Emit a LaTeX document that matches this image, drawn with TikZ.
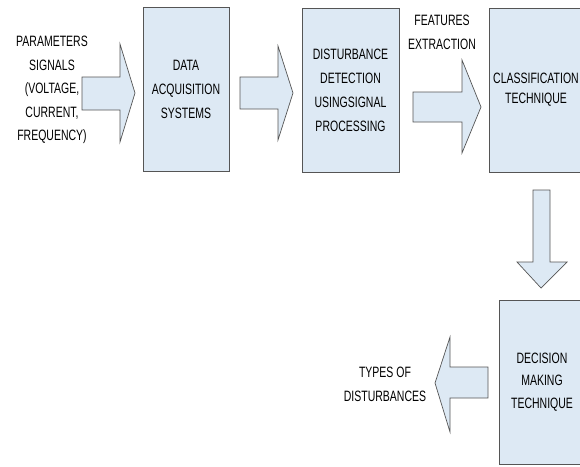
\documentclass[tikz,border=0pt]{standalone}
\usepackage{fontspec}
\setmainfont{Liberation Sans}[FakeStretch=0.7]
\usetikzlibrary{positioning}
\definecolor{boxfill}{RGB}{221,233,244}
\definecolor{boxline}{RGB}{85,85,85}

\begin{document}
\begin{tikzpicture}[x=1pt,y=-1pt,
        block/.style={draw=boxline,fill=boxfill,line width=0.8pt,align=center,
                      minimum height=164pt,inner sep=0pt,
                      font=\fontsize{15pt}{24pt}\selectfont},
        label/.style={align=center,inner sep=0pt,font=\fontsize{15pt}{24pt}\selectfont},
        bigarrow/.style={draw=boxline,fill=boxfill,line width=0.7pt,line join=miter}]

        \useasboundingbox (0,0) rectangle (580,466);
        \clip (0,0) rectangle (580,466);

        % blocks
        \node[block,minimum width=86pt]  (DAQ)  at (186,89.5)  {DATA\\ACQUISITION\\SYSTEMS};
        \node[block,minimum width=97pt]  (DET)  at (350.5,90.5) {DISTURBANCE\\DETECTION\\USINGSIGNAL\\PROCESSING};
        \node[block,minimum width=94pt,font=\fontsize{15pt}{20pt}\selectfont]
                                         (CLS)  at (536,90)    {CLASSIFICATION\\TECHNIQUE};
        \node[block,minimum width=86pt,font=\fontsize{15pt}{22.5pt}\selectfont]
                                         (DEC)  at (542,382)   {DECISION\\MAKING\\TECHNIQUE};

        % labels
        \node[label,font=\fontsize{15pt}{23.5pt}\selectfont]
                         (IN)   at (52,90)    {PARAMETERS\\SIGNALS\\(VOLTAGE,\\CURRENT,\\FREQUENCY)};
        \node[label]     (FEAT) at (442,32.5) {FEATURES\\EXTRACTION};
        \node[label]     (OUT)  at (385,384.5) {TYPES OF\\DISTURBANCES};

        % block arrows
        \draw[bigarrow] (82,77) -- (120,77) -- (120,44) -- (135,93)
                        -- (120,142) -- (120,110) -- (82,110) -- cycle;
        \draw[bigarrow] (240,77) -- (278,77) -- (278,46) -- (293,93)
                        -- (278,140) -- (278,109) -- (240,109) -- cycle;
        \draw[bigarrow] (413,92) -- (462,92) -- (462,60) -- (481,107)
                        -- (462,153) -- (462,122) -- (413,122) -- cycle;
        \draw[bigarrow] (533,190) -- (550,190) -- (550,262) -- (567,262)
                        -- (541,288) -- (517,262) -- (533,262) -- cycle;
        \draw[bigarrow] (488,367) -- (450,367) -- (450,337) -- (435,383)
                        -- (450,432) -- (450,398) -- (488,398) -- cycle;
\end{tikzpicture}
\end{document}
